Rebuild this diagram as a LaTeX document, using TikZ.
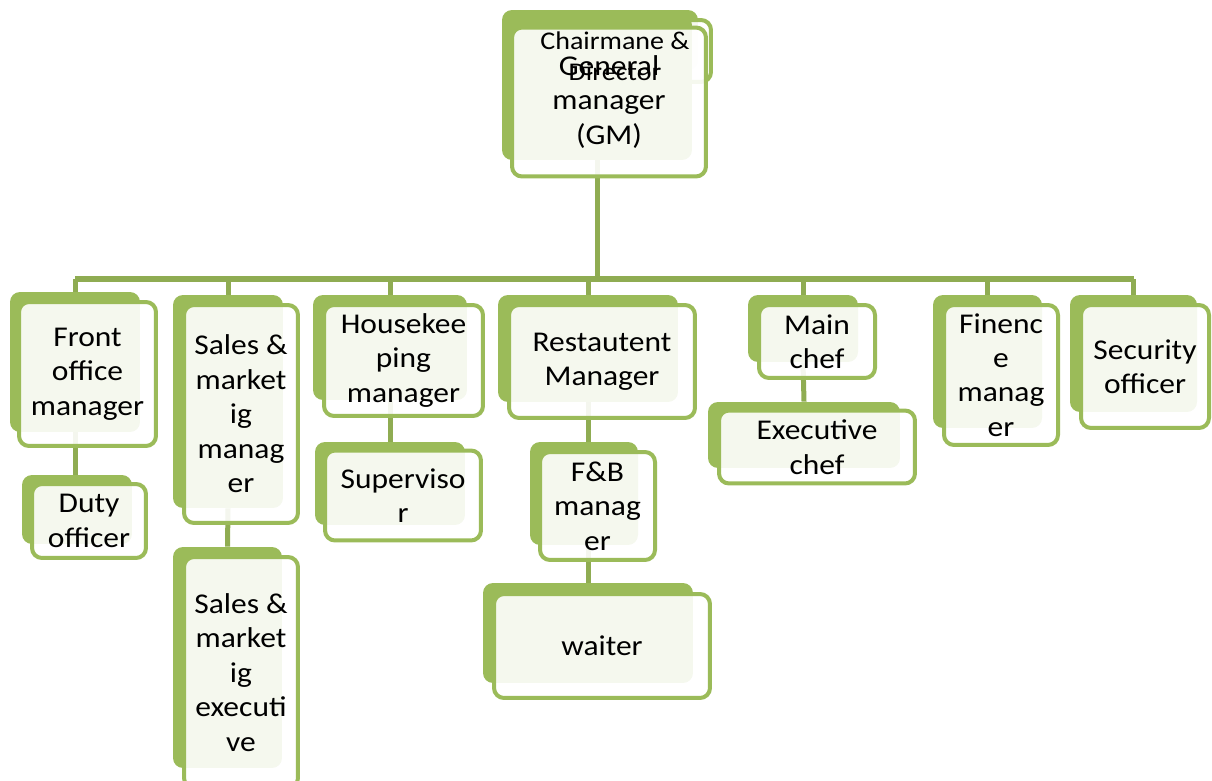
\documentclass[tikz,border=0pt]{standalone}
\usepackage{fontspec}
\setmainfont{Carlito}[FakeStretch=1.1]
\usetikzlibrary{backgrounds}
\definecolor{boxgreen}{RGB}{155,187,89}
\definecolor{linegreen}{RGB}{143,172,82}

\begin{document}
\begin{tikzpicture}[x=0.02cm,y=-0.02cm,
    backbox/.style={rectangle,fill=boxgreen,rounded corners=0.2cm,inner sep=0pt},
    frontbox/.style={rectangle,draw=boxgreen,line width=0.08cm,fill=white,
      fill opacity=0.9,text opacity=1,rounded corners=0.2cm,inner sep=0pt,
      align=center,font=\fontsize{16.3}{19.6}\selectfont},
    conn/.style={linegreen,line width=0.1cm}]
  \useasboundingbox (0,0) rectangle (1212,780);
  % top: chairman behind the GM
  \node[backbox,minimum width=3.92cm,minimum height=1.2cm] (chair) at (600,40) {};
  \node[frontbox,minimum width=3.94cm,minimum height=1.24cm] (chairf) at (612.5,51) {};
  \node[backbox,minimum width=3.8cm,minimum height=2.9cm] (gm) at (597,87.5) {};
  \node[frontbox,minimum width=3.88cm,minimum height=2.98cm] (gmf) at (609,102) {General\\manager\\(GM)};
  \node[align=center,font=\fontsize{14.5}{17.6}\selectfont] (chairtxt) at (615,56) {Chairmane \&\\Director};
  % first row
  \node[backbox,minimum width=2.6cm,minimum height=2.8cm] (fom) at (75,362) {};
  \node[frontbox,minimum width=2.74cm,minimum height=2.88cm] (fomf) at (87.5,374) {Front\\office\\manager};
  \node[backbox,minimum width=2.2cm,minimum height=4.26cm] (sales) at (228,401.5) {};
  \node[frontbox,minimum width=2.28cm,minimum height=4.36cm] (salesf) at (241,414) {Sales \&\\market\\ig\\manag\\er};
  \node[backbox,minimum width=3.08cm,minimum height=2.1cm] (hk) at (390,347.5) {};
  \node[frontbox,minimum width=3.18cm,minimum height=2.22cm] (hkf) at (403.5,360.5) {Housekee\\ping\\manager};
  \node[backbox,minimum width=3.6cm,minimum height=2.14cm] (rest) at (588,348.5) {};
  \node[frontbox,minimum width=3.72cm,minimum height=2.26cm] (restf) at (602,361.5) {Restautent\\Manager};
  \node[backbox,minimum width=2.2cm,minimum height=1.34cm] (mchef) at (803,328.5) {};
  \node[frontbox,minimum width=2.32cm,minimum height=1.46cm] (mcheff) at (817,341.5) {Main\\chef};
  \node[backbox,minimum width=2.18cm,minimum height=2.66cm] (fin) at (987.5,361.5) {};
  \node[frontbox,minimum width=2.28cm,minimum height=2.8cm] (finf) at (1001,375) {Finenc\\e\\manag\\er};
  \node[backbox,minimum width=2.54cm,minimum height=2.34cm] (sec) at (1133.5,353.5) {};
  \node[frontbox,minimum width=2.56cm,minimum height=2.46cm] (secf) at (1145,366.5) {Security\\officer};
  % second row
  \node[backbox,minimum width=2.2cm,minimum height=1.38cm] (duty) at (77,509.5) {};
  \node[frontbox,minimum width=2.28cm,minimum height=1.48cm] (dutyf) at (89,521) {Duty\\officer};
  \node[backbox,minimum width=2.18cm,minimum height=4.42cm] (exec) at (227.5,657.5) {};
  \node[frontbox,minimum width=2.28cm,minimum height=4.62cm] (execf) at (241,672.5) {Sales \&\\market\\ig\\executi\\ve};
  \node[backbox,minimum width=3.0cm,minimum height=1.66cm] (sup) at (390,483.5) {};
  \node[frontbox,minimum width=3.12cm,minimum height=1.8cm] (supf) at (403,495.5) {Superviso\\r};
  \node[backbox,minimum width=2.16cm,minimum height=2.06cm] (fb) at (584,493.5) {};
  \node[frontbox,minimum width=2.3cm,minimum height=2.16cm] (fbf) at (597.5,506) {F\&B\\manag\\er};
  \node[backbox,minimum width=4.2cm,minimum height=2.0cm] (waiter) at (588,633) {};
  \node[frontbox,minimum width=4.32cm,minimum height=2.08cm] (waiterf) at (602,646) {waiter};
  \node[backbox,minimum width=3.84cm,minimum height=1.32cm] (echef) at (804,435) {};
  \node[frontbox,minimum width=3.92cm,minimum height=1.46cm] (echeff) at (817,447) {Executive\\chef};
  % connectors
  \begin{scope}[on background layer]
    \coordinate (bus) at (0,279);
    \draw[conn] (gm.south) -- (gm.south |- bus);
    \draw[conn,line width=0.12cm] (fom.north |- bus) -- (sec.north |- bus);
    \draw[conn] (fom.north) -- (fom.north |- bus);
    \draw[conn] (sales.north) -- (sales.north |- bus);
    \draw[conn] (hk.north) -- (hk.north |- bus);
    \draw[conn] (rest.north) -- (rest.north |- bus);
    \draw[conn] (mchef.north) -- (mchef.north |- bus);
    \draw[conn] (fin.north) -- (fin.north |- bus);
    \draw[conn] (sec.north) -- (sec.north |- bus);
    \draw[conn] (fom.south) -- (fom.south |- duty.north);
    \draw[conn] (sales.south) -- (exec.north);
    \draw[conn] (hk.south) -- (sup.north);
    \draw[conn] (rest.south) -- (rest.south |- fb.north);
    \draw[conn] (waiter.north) -- (waiter.north |- fb.south);
    \draw[conn] (mchef.south) -- (echef.north);
  \end{scope}
\end{tikzpicture}
\end{document}
